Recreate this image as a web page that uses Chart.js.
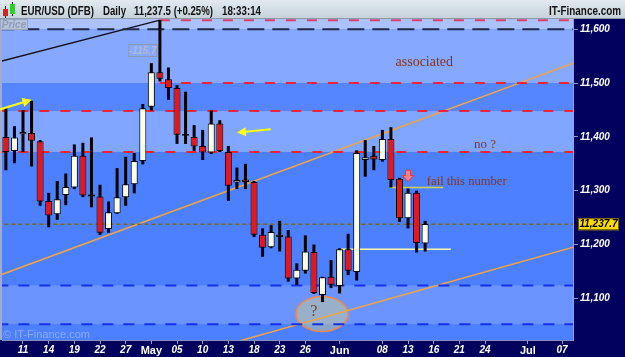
<!DOCTYPE html>
<html>
<head>
<meta charset="utf-8">
<title>EUR/USD (DFB) Daily</title>
<style>
  html, body { margin: 0; padding: 0; background: #02025e; }
  #wrap { width: 625px; height: 357px; }
</style>
</head>
<body>
<div id="wrap"><canvas id="chart" width="625" height="357"></canvas></div>
<script src="https://cdn.jsdelivr.net/npm/chart.js"></script>
<script>
// EUR/USD daily candles, x = trading day number (0 = 7 Apr)
const dates = ['Apr 07', 'Apr 08', 'Apr 11', 'Apr 12', 'Apr 13', 'Apr 14', 'Apr 15', 'Apr 18', 'Apr 19', 'Apr 20',
  'Apr 21', 'Apr 22', 'Apr 25', 'Apr 26', 'Apr 27', 'Apr 28', 'Apr 29', 'May 02', 'May 03', 'May 04',
  'May 05', 'May 06', 'May 09', 'May 10', 'May 11', 'May 12', 'May 13', 'May 16', 'May 17', 'May 18',
  'May 19', 'May 20', 'May 23', 'May 24', 'May 25', 'May 26', 'May 27', 'May 30', 'May 31', 'Jun 01',
  'Jun 02', 'Jun 03', 'Jun 06', 'Jun 07', 'Jun 08', 'Jun 09', 'Jun 10', 'Jun 13', 'Jun 14', 'Jun 15'];
const opens = [11400, 11374, 11405, 11407, 11392, 11281, 11256, 11292, 11306, 11365,
  11293, 11289, 11229, 11258, 11288, 11312, 11355, 11456, 11520, 11507,
  11491, 11406, 11400, 11383, 11371, 11425, 11372, 11315, 11321, 11316,
  11218, 11195, 11218, 11215, 11137, 11151, 11186, 11106, 11140, 11123,
  11191, 11149, 11357, 11365, 11357, 11396, 11322, 11249, 11296, 11202];
const highs = [11454, 11420, 11450, 11467, 11394, 11296, 11318, 11332, 11386, 11389,
  11399, 11311, 11280, 11342, 11363, 11370, 11461, 11537, 11617, 11529,
  11496, 11484, 11422, 11413, 11449, 11431, 11383, 11343, 11350, 11318,
  11230, 11236, 11244, 11227, 11165, 11217, 11200, 11140, 11171, 11193,
  11220, 11375, 11394, 11383, 11413, 11418, 11324, 11304, 11300, 11244];
const lows = [11338, 11351, 11372, 11345, 11272, 11232, 11246, 11273, 11303, 11288,
  11269, 11218, 11222, 11257, 11272, 11295, 11349, 11449, 11503, 11469,
  11387, 11387, 11374, 11357, 11368, 11372, 11281, 11303, 11303, 11214,
  11177, 11193, 11187, 11131, 11125, 11146, 11108, 11093, 11119, 11109,
  11143, 11133, 11326, 11338, 11354, 11306, 11242, 11230, 11185, 11187];
const closes = [11372, 11399, 11409, 11393, 11280, 11254, 11284, 11307, 11365, 11291,
  11289, 11222, 11260, 11288, 11312, 11355, 11453, 11520, 11508, 11491,
  11404, 11402, 11382, 11371, 11425, 11374, 11309, 11320, 11316, 11218,
  11194, 11223, 11214, 11137, 11153, 11187, 11110, 11139, 11125, 11191,
  11151, 11370, 11362, 11358, 11396, 11320, 11249, 11296, 11203, 11238];

// axis labels (trading day number -> label)
const tickPos = [2, 5, 8, 11, 14, 17, 20, 23, 26, 29, 32, 35, 39, 44, 47, 50, 53, 56, 61, 65];
const tickLabels = ['11', '14', '19', '22', '27', 'May', '05', '10', '13', '18', '23', '26', 'Jun', '08', '13', '16', '21', '24', 'Jul', '07'];
const yTicks = [11100, 11200, 11300, 11400, 11500, 11600];
const lastPrice = 11237.7;

// horizontal levels and zones
const levels = [11617, 11600, 11500, 11448, 11372, 11237.7, 11124, 11052];
const levelStart = [18, -1, 18, -1, -1, -1, -1, -1];
const zones = [[11600, 11700], [11500, 11600], [11448, 11500], [11372, 11448], [11052, 11124]];

// drawn trendlines
const blackTrend = [{x: -0.7, y: 11540}, {x: 18, y: 11617}];
const upperTrend = [{x: -0.7, y: 11143}, {x: 66.3, y: 11537}];
const lowerTrend = [{x: 26, y: 11015}, {x: 66.3, y: 11195}];
const failLine = [{x: 44.9, y: 11306}, {x: 51.1, y: 11306}];
const supportLine = [{x: 39, y: 11191}, {x: 52, y: 11191}];

// annotations
const notes = [
  {text: 'associated', x: 48.9, y: 11539, size: 14},
  {text: 'no ?', x: 56.0, y: 11385, size: 13},
  {text: 'fail this number', x: 53.86, y: 11317, size: 12.6}
];
const arrows = [[-0.7, 11451, 3.0, 11469], [30.95, 11414, 27.0, 11408]];

const zoneColors = ['#abc2ff', '#86a9ff', '#5586ff', '#81a6ff', '#6c94ff'];
const levelStyle = [
  ['#d8406a', [10, 11], 2],
  ['#1e2a48', [17, 8], 2],
  ['#f02238', [10, 11], 2],
  ['#f02238', [10, 11], 2],
  ['#f02238', [10, 11], 2],
  ['#7a6a12', [4, 3], 1.5],
  ['#1430e8', [11, 10], 2],
  ['#1430e8', [11, 10], 2]
];

function seg(points, color, width, dash) {
  return {
    type: 'line', data: points, borderColor: color, borderWidth: width,
    borderDash: dash || [], pointRadius: 0, fill: false, tension: 0, order: 2
  };
}

const datasets = [
  {
    label: 'body',
    data: dates.map((d, i) => ({x: i, y: [opens[i], closes[i]]})),
    backgroundColor: dates.map((d, i) => closes[i] >= opens[i] ? '#fffde2' : '#e41818'),
    borderColor: '#000', borderWidth: 1, borderSkipped: false,
    barThickness: 7, grouped: false, inflateAmount: 0, order: 0
  },
  {
    label: 'wick',
    data: dates.map((d, i) => ({x: i, y: [lows[i], highs[i]]})),
    backgroundColor: '#000', borderWidth: 0,
    barThickness: 3, grouped: false, inflateAmount: 0, order: 1
  }
];
levels.forEach((v, i) => {
  const s = levelStyle[i];
  datasets.push(seg([{x: levelStart[i], y: v}, {x: 67, y: v}], s[0], s[2], s[1]));
});
datasets.push(seg(blackTrend, '#101018', 1.5));
datasets.push(seg(upperTrend, '#f0a440', 1.5));
datasets.push(seg(lowerTrend, '#f0a440', 1.5));
datasets.push(seg(failLine, '#d4d048', 1.5));
datasets.push(seg(supportLine, '#fffaa8', 1.5));

const decor = {
  id: 'decor',
  beforeDraw(chart) {
    const {ctx, chartArea: a, scales: {y}} = chart;
    ctx.save();
    ctx.fillStyle = '#02025e';
    ctx.fillRect(0, 0, chart.width, chart.height);
    ctx.fillStyle = '#4d80ff';
    ctx.fillRect(a.left, a.top, a.right - a.left, a.bottom - a.top);
    ctx.beginPath();
    ctx.rect(a.left, a.top, a.right - a.left, a.bottom - a.top);
    ctx.clip();
    zones.forEach((z, i) => {
      const t = y.getPixelForValue(z[1]), b = y.getPixelForValue(z[0]);
      ctx.fillStyle = zoneColors[i];
      ctx.fillRect(a.left, t, a.right - a.left, b - t);
    });
    ctx.restore();

    ctx.save();
    ctx.fillStyle = '#a4acc4';
    ctx.fillRect(0, a.top, a.left, a.bottom - a.top);
    // header bar
    const g = ctx.createLinearGradient(0, 0, 0, 19);
    g.addColorStop(0, '#e2eaf0');
    g.addColorStop(1, '#c4d0d8');
    ctx.fillStyle = g;
    ctx.fillRect(0, 0, chart.width, 19);
    ctx.fillStyle = '#8e9caa';
    ctx.fillRect(0, 18, chart.width, 1);
    // little candle icon
    ctx.fillStyle = '#000';
    ctx.fillRect(5, 6, 1, 12);
    ctx.fillRect(12, 2, 1, 14);
    ctx.fillStyle = '#e02020';
    ctx.fillRect(3, 9, 5, 7);
    ctx.fillStyle = '#38c838';
    ctx.fillRect(10, 4, 5, 10);
    ctx.fillStyle = '#111';
    ctx.font = 'bold 12px Arial';
    ctx.textBaseline = 'alphabetic';
    ctx.fillText('EUR/USD (DFB)', 21, 14.5, 73);
    ctx.fillText('Daily', 103, 14.5, 23);
    ctx.fillText('11,237.5 (+0.25%)', 134, 14.5, 79);
    ctx.fillText('18:33:14', 222, 14.5, 39);
    ctx.textAlign = 'right';
    ctx.fillText('IT-Finance.com', 621, 14.5, 72);
    ctx.restore();
  },
  beforeDatasetsDraw(chart) {
    const {ctx, chartArea: a, scales: {x, y}} = chart;
    ctx.save();
    // circled question mark
    const cx = x.getPixelForValue(36.95), cy = y.getPixelForValue(11071);
    ctx.beginPath();
    ctx.ellipse(cx, cy, 26, 17.5, 0, 0, Math.PI * 2);
    ctx.fillStyle = 'rgba(198, 202, 150, 0.5)';
    ctx.fill();
    ctx.strokeStyle = '#f08848';
    ctx.lineWidth = 1.5;
    ctx.stroke();
    ctx.fillStyle = '#7a4424';
    ctx.font = '16px "Liberation Serif", serif';
    ctx.textAlign = 'center';
    ctx.textBaseline = 'middle';
    ctx.fillText('?', x.getPixelForValue(36), y.getPixelForValue(11075));
    // watermark
    ctx.fillStyle = 'rgba(190, 205, 240, 0.55)';
    ctx.font = '11px Arial';
    ctx.textAlign = 'left';
    ctx.fillText('\u00a9 IT-Finance.com', a.left + 1, a.bottom - 5);
    // trend measure label
    const lx = x.getPixelForValue(16), ly = y.getPixelForValue(11560.6);
    ctx.strokeStyle = '#8c98b4';
    ctx.lineWidth = 1;
    ctx.strokeRect(lx - 14, ly - 6, 28, 12);
    ctx.fillStyle = '#aebad6';
    ctx.font = 'italic bold 10px Arial';
    ctx.textAlign = 'center';
    ctx.fillText('-115.7', lx, ly + 0.5);
    ctx.restore();
  },
  afterDatasetsDraw(chart) {
    const {ctx, scales: {x, y}} = chart;
    ctx.save();
    // yellow arrows
    arrows.forEach(p => {
      const x0 = x.getPixelForValue(p[0]), y0 = y.getPixelForValue(p[1]);
      const x1 = x.getPixelForValue(p[2]), y1 = y.getPixelForValue(p[3]);
      const ang = Math.atan2(y1 - y0, x1 - x0), c = Math.cos(ang), s = Math.sin(ang);
      ctx.strokeStyle = '#ffff10';
      ctx.fillStyle = '#ffff10';
      ctx.lineWidth = 2;
      ctx.beginPath();
      ctx.moveTo(x0, y0);
      ctx.lineTo(x1 - 6 * c, y1 - 6 * s);
      ctx.stroke();
      ctx.beginPath();
      ctx.moveTo(x1, y1);
      ctx.lineTo(x1 - 9 * c + 4.5 * s, y1 - 9 * s - 4.5 * c);
      ctx.lineTo(x1 - 9 * c - 4.5 * s, y1 - 9 * s + 4.5 * c);
      ctx.closePath();
      ctx.fill();
    });
    // red down arrow over 13 Jun
    const ax = x.getPixelForValue(47), at = y.getPixelForValue(11338), ab = y.getPixelForValue(11317);
    ctx.beginPath();
    ctx.moveTo(ax - 2.5, at);
    ctx.lineTo(ax + 2.5, at);
    ctx.lineTo(ax + 2.5, ab - 6);
    ctx.lineTo(ax + 5.5, ab - 6);
    ctx.lineTo(ax, ab);
    ctx.lineTo(ax - 5.5, ab - 6);
    ctx.lineTo(ax - 2.5, ab - 6);
    ctx.closePath();
    ctx.fillStyle = '#ff8080';
    ctx.fill();
    ctx.strokeStyle = '#e03a3a';
    ctx.lineWidth = 1;
    ctx.stroke();
    // notes
    ctx.fillStyle = '#8a3414';
    ctx.textAlign = 'center';
    ctx.textBaseline = 'middle';
    notes.forEach(n => {
      ctx.font = n.size + 'px "Liberation Serif", serif';
      ctx.fillText(n.text, x.getPixelForValue(n.x), y.getPixelForValue(n.y));
    });
    ctx.restore();
  },
  afterDraw(chart) {
    const {ctx, chartArea: a, scales: {y}} = chart;
    ctx.save();
    // last price marker
    const py = y.getPixelForValue(lastPrice);
    ctx.fillStyle = '#ffdc00';
    ctx.fillRect(a.right + 5, py - 6, 41, 12);
    ctx.strokeStyle = '#6a5a00';
    ctx.lineWidth = 1;
    ctx.strokeRect(a.right + 5.5, py - 5.5, 40, 11);
    ctx.fillStyle = '#000';
    ctx.font = 'italic bold 10px Arial';
    ctx.textAlign = 'center';
    ctx.textBaseline = 'middle';
    ctx.fillText(lastPrice.toLocaleString('en-US', {minimumFractionDigits: 1}), a.right + 25.5, py + 0.5);
    // "Price" tag
    ctx.fillStyle = '#b6c4da';
    ctx.fillRect(0, a.top, 28, 11);
    ctx.strokeStyle = '#98a6c0';
    ctx.strokeRect(0.5, a.top + 0.5, 27, 10);
    ctx.fillStyle = '#8e9cb8';
    ctx.font = 'italic bold 10px Arial';
    ctx.fillText('Price', 14, a.top + 6);
    ctx.restore();
  }
};

new Chart(document.getElementById('chart'), {
  type: 'bar',
  data: {datasets: datasets},
  options: {
    responsive: false,
    animation: false,
    events: [],
    layout: {padding: {top: 19, left: 2, right: 0, bottom: 0}},
    plugins: {legend: {display: false}, tooltip: {enabled: false}},
    scales: {
      x: {
        type: 'linear', min: -0.454, max: 66.28, offset: false,
        afterBuildTicks: s => { s.ticks = tickPos.map(v => ({value: v})); },
        afterFit: s => { s.height = 17; },
        grid: {drawOnChartArea: false, drawTicks: true, tickLength: 4, tickColor: '#8f98c4', offset: false},
        border: {color: '#8290c4', width: 1},
        ticks: {
          autoSkip: false, maxRotation: 0, padding: 0, color: '#ffffff',
          callback: (v, i) => tickLabels[i],
          font: c => {
            const isMonth = c.tick && /^[A-Z]/.test(c.tick.label);
            return {family: 'Arial', size: isMonth ? 11 : 10, style: isMonth ? 'normal' : 'italic', weight: 'bold'};
          }
        }
      },
      y: {
        position: 'right', min: 11022.5, max: 11619.1, beginAtZero: false,
        afterBuildTicks: s => { s.ticks = yTicks.map(v => ({value: v})); },
        afterFit: s => { s.width = 52; },
        grid: {drawOnChartArea: false, drawTicks: true, tickLength: 5, tickColor: '#8f98c4'},
        border: {color: '#90a4dc', width: 1},
        ticks: {
          color: '#ffffff', padding: 2,
          font: {family: 'Arial', size: 10, style: 'italic', weight: 'bold'},
          callback: v => v.toLocaleString('en-US')
        }
      }
    }
  },
  plugins: [decor]
});
</script>
</body>
</html>
